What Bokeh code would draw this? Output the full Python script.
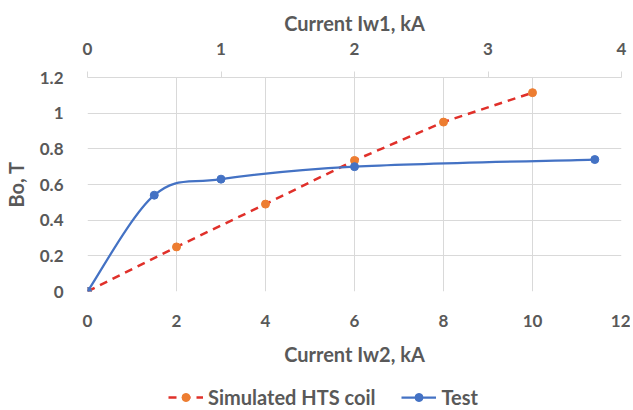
from bokeh.plotting import figure
from bokeh.layouts import column
from bokeh.models import (Range1d, LinearAxis, Legend, LegendItem, FixedTicker,
                          ColumnDataSource)
from bokeh.embed import file_html
from bokeh.resources import INLINE

# ---- data ----
sim_x = [0, 2, 4, 6, 8, 10]
sim_y = [0, 0.25, 0.49, 0.735, 0.95, 1.115]
test_x = [0, 1.5, 3, 6, 11.4]
test_y = [0, 0.54, 0.63, 0.70, 0.74]
x_ticks = [0, 2, 4, 6, 8, 10, 12]
x1_ticks = [0, 1, 2, 3, 4]
y_ticks = [0, 0.2, 0.4, 0.6, 0.8, 1.0, 1.2]
y_tick_labels = {0: "0", 0.2: "0.2", 0.4: "0.4", 0.6: "0.6", 0.8: "0.8", 1.0: "1", 1.2: "1.2"}

FONT = "Lato"
TXT = "#595959"
GRID = "#d9d9d9"
BLUE = "#4472C4"
ORANGE = "#ED7D31"
RED = "#E0302A"
W = 630

p = figure(width=W, height=368, output_backend="svg", toolbar_location=None,
           x_range=Range1d(0, 12), y_range=Range1d(0, 1.2),
           min_border_left=82, min_border_right=9, min_border_top=77,
           min_border_bottom=4)
p.outline_line_color = None

p.extra_x_ranges = {"top": Range1d(0, 4)}
top = LinearAxis(x_range_name="top", axis_label="Current Iw1, kA")
top.ticker = FixedTicker(ticks=x1_ticks)
p.add_layout(top, "above")

xb = p.below[0]
yl = p.left[0]

for ax in [xb, yl, top]:
    ax.major_label_text_font = FONT
    ax.major_label_text_font_style = "bold"
    ax.major_label_text_font_size = "17px"
    ax.major_label_text_color = TXT
    ax.axis_label_text_font = FONT
    ax.axis_label_text_font_style = "bold"
    ax.axis_label_text_font_size = "20px"
    ax.axis_label_text_color = TXT
    ax.minor_tick_line_color = None

xb.ticker = FixedTicker(ticks=x_ticks)
xb.axis_label = "Current Iw2, kA"
xb.axis_line_color = None
xb.major_tick_line_color = None
xb.major_label_standoff = 17
xb.axis_label_standoff = 12

yl.ticker = FixedTicker(ticks=y_ticks)
yl.major_label_overrides = y_tick_labels
yl.axis_label = "Bo, T"
yl.axis_line_color = None
yl.major_tick_line_color = None
yl.major_label_standoff = 18
yl.axis_label_standoff = 9

top.axis_line_color = GRID
top.major_tick_line_color = GRID
top.major_tick_out = 6
top.major_tick_in = 0
top.major_label_standoff = 17
top.axis_label_standoff = 5

p.xgrid.ticker = FixedTicker(ticks=x_ticks)
p.ygrid.ticker = FixedTicker(ticks=y_ticks)
p.xgrid.grid_line_color = GRID
p.ygrid.grid_line_color = GRID

# ---- smoothed-curve control points for the Test series (Catmull-Rom style) ----
n = len(test_x)
x0, y0, x1, y1, cx0, cy0, cx1, cy1 = ([] for _ in range(8))
for i in range(n - 1):
    pm = (test_x[max(i - 1, 0)], test_y[max(i - 1, 0)])
    pa = (test_x[i], test_y[i])
    pb = (test_x[i + 1], test_y[i + 1])
    pn = (test_x[min(i + 2, n - 1)], test_y[min(i + 2, n - 1)])
    x0.append(pa[0]); y0.append(pa[1]); x1.append(pb[0]); y1.append(pb[1])
    cx0.append(pa[0] + (pb[0] - pm[0]) / 6); cy0.append(pa[1] + (pb[1] - pm[1]) / 6)
    cx1.append(pb[0] - (pn[0] - pa[0]) / 6); cy1.append(pb[1] - (pn[1] - pa[1]) / 6)
bez = dict(x0=x0, y0=y0, x1=x1, y1=y1, cx0=cx0, cy0=cy0, cx1=cx1, cy1=cy1)


def draw(fig):
    sl = fig.line(sim_x, sim_y, line_color=RED, line_width=2.5, line_dash="8 6")
    sp = fig.scatter(sim_x, sim_y, size=8, fill_color=ORANGE, line_color=ORANGE)
    tc = fig.bezier(x0="x0", y0="y0", x1="x1", y1="y1", cx0="cx0", cy0="cy0",
                    cx1="cx1", cy1="cy1", source=ColumnDataSource(bez),
                    line_color=BLUE, line_width=2.25)
    tp = fig.scatter(test_x, test_y, size=8, fill_color=BLUE, line_color=BLUE)
    return sl, sp, tc, tp


draw(p)

# ---- legend strip below the chart (its series lie outside its visible range) ----
lf = figure(width=W, height=42, output_backend="svg", toolbar_location=None,
            x_range=Range1d(100, 101), y_range=Range1d(100, 101),
            x_axis_location=None, y_axis_location=None,
            min_border=0)
lf.outline_line_color = None
lf.grid.visible = False
sl, sp, tc, tp = draw(lf)

legend = Legend(items=[
    LegendItem(label="Simulated HTS coil", renderers=[sl, sp]),
    LegendItem(label="Test", renderers=[tc, tp]),
], orientation="horizontal", location=(81, 1))
legend.label_text_font = FONT
legend.label_text_font_style = "bold"
legend.label_text_font_size = "20px"
legend.label_text_color = TXT
legend.border_line_color = None
legend.background_fill_alpha = 0
legend.glyph_width = 35
legend.label_standoff = 5
legend.spacing = 26
legend.padding = 2
legend.margin = 0
lf.add_layout(legend, "center")

layout = column(p, lf, spacing=0)
open("out.html", "w").write(file_html(layout, INLINE))
